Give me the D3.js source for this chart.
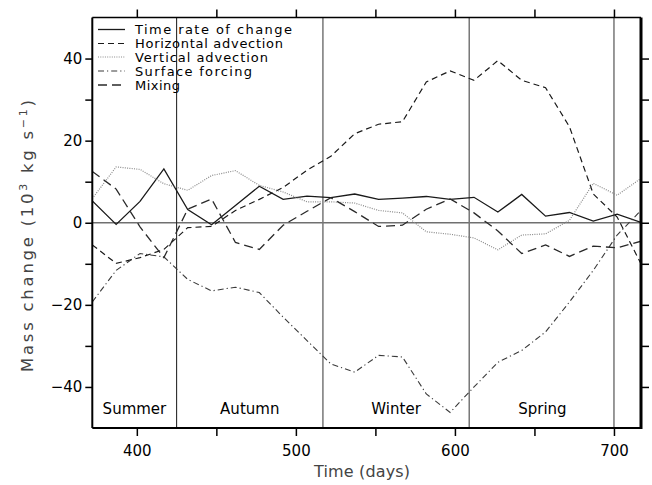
<!DOCTYPE html>
<html>
<head>
<meta charset="utf-8">
<script src="https://cdn.jsdelivr.net/npm/d3@7"></script>
<style>
  html, body { margin: 0; padding: 0; background: #fff; }
  svg { display: block; }
  text { font-family: "DejaVu Sans", sans-serif; }
</style>
</head>
<body>
<svg id="chart" width="652" height="485"></svg>
<script>
// ---- data ----
const days = d3.range(24).map(i => 372 + 15 * i);
const timeRate   = [5.3, -0.4, 5.2, 13.1, 3.2, -0.5, 4.2, 8.9, 5.7, 6.5, 6.1, 7.0, 5.7, 6.0, 6.4, 5.7, 6.2, 2.6, 6.9, 1.6, 2.5, 0.4, 2.1, 0.1];
const horizAdv   = [-5.4, -9.9, -8.5, -6.5, -1.2, -0.9, 3.0, 5.7, 8.6, 12.8, 16.2, 21.7, 24.0, 24.6, 34.3, 37.0, 34.7, 39.5, 34.7, 32.9, 23.4, 7.0, 1.4, -10.0];
const vertAdv    = [5.9, 13.6, 13.0, 9.5, 7.9, 11.5, 12.7, 9.1, 7.5, 5.1, 5.1, 4.8, 3.0, 2.4, -2.2, -2.8, -3.7, -6.6, -3.0, -2.7, 0.6, 9.6, 6.7, 10.8];
const surfForce  = [-19.3, -11.6, -7.5, -8.3, -13.8, -16.6, -15.7, -17.0, -23.0, -28.7, -34.4, -36.4, -32.3, -32.7, -41.7, -46.2, -40.0, -34.0, -31.1, -26.6, -19.3, -11.6, -3.0, 3.0];
const mixing     = [12.5, 8.2, -1.0, -8.5, 3.3, 5.8, -4.8, -6.5, -0.6, 2.8, 6.1, 2.7, -0.9, -0.6, 3.3, 5.8, 2.4, -2.0, -7.5, -5.4, -8.2, -5.7, -6.1, -4.5];

const seriesNames = ["Time rate of change", "Horizontal advection", "Vertical advection", "Surface forcing", "Mixing"];
const seasonBounds = [425, 517, 609, 700];
const seasonNames = ["Summer", "Autumn", "Winter", "Spring"];
const seasonCenters = [398.5, 471, 563, 655];
const xTickLabels = [400, 500, 600, 700];
const yTickLabels = [-40, -20, 0, 20, 40];

// ---- layout ----
const svg = d3.select("#chart");
const L = 92.3, R = 641, T = 17.5, B = 428;
const x = d3.scaleLinear().domain([372, 717]).range([L, R]);
const y = d3.scaleLinear().domain([-50, 50]).range([B, T]);

const styles = [
  {stroke: "#1a1a1a", dash: null, w: 1.3},
  {stroke: "#1a1a1a", dash: "6,4", w: 1.2},
  {stroke: "#8a8a8a", dash: "1,1.3", w: 1.2},
  {stroke: "#3a3a3a", dash: "6,3,1.2,3", w: 1.1},
  {stroke: "#2a2a2a", dash: "9,5", w: 1.3}
];
const allSeries = [timeRate, horizAdv, vertAdv, surfForce, mixing];
const legendWidths = [157, 148, 133, 117, 45];

svg.append("defs").append("clipPath").attr("id", "clip")
  .append("rect").attr("x", L).attr("y", T).attr("width", R - L).attr("height", B - T);

// zero line
svg.append("line").attr("x1", L).attr("x2", R).attr("y1", y(0)).attr("y2", y(0))
  .attr("stroke", "#707070").attr("stroke-width", 1.5);

// season lines
seasonBounds.forEach((d, i) => {
  svg.append("line").attr("x1", x(d)).attr("x2", x(d)).attr("y1", T).attr("y2", B)
    .attr("stroke", i === 0 ? "#2a2a2a" : "#777").attr("stroke-width", i === 0 ? 1.1 : 1.5);
});

// series
const line = d3.line().x((d, i) => x(days[i])).y(d => y(d));
const g = svg.append("g").attr("clip-path", "url(#clip)");
allSeries.forEach((s, k) => {
  g.append("path").datum(s).attr("d", line).attr("fill", "none")
    .attr("stroke", styles[k].stroke).attr("stroke-width", styles[k].w)
    .attr("stroke-dasharray", styles[k].dash);
});

// season labels
seasonNames.forEach((n, i) => {
  svg.append("text").attr("x", x(seasonCenters[i])).attr("y", 414)
    .attr("text-anchor", "middle").attr("font-size", 15).attr("fill", "#000").text(n);
});

// axes
const xAxisB = d3.axisBottom(x).tickValues(d3.range(400, 701, 50)).tickSize(8)
  .tickFormat(d => xTickLabels.includes(d) ? d : "");
const gb = svg.append("g").attr("transform", `translate(0,${B})`).call(xAxisB);
gb.select(".domain").attr("stroke-width", 2.2).attr("d", `M${L},0H${R}`);
gb.selectAll("line").attr("stroke-width", 1.5);
gb.selectAll("text").attr("font-size", 15).attr("font-family", "DejaVu Sans").attr("dy", "1.1em").attr("fill", "#000");

const xAxisT = d3.axisTop(x).tickValues(d3.range(400, 701, 50)).tickSize(8).tickFormat("");
const gt = svg.append("g").attr("transform", `translate(0,${T})`).call(xAxisT);
gt.select(".domain").attr("stroke-width", 1.5).attr("d", `M${L},0H${R}`);
gt.selectAll("line").attr("stroke-width", 1.5);

const yAxisL = d3.axisLeft(y).tickValues(d3.range(-40, 41, 10)).tickSize(7)
  .tickFormat(d => yTickLabels.includes(d) ? (d < 0 ? "\u2212" + Math.abs(d) : d) : "");
const gl = svg.append("g").attr("transform", `translate(${L},0)`).call(yAxisL);
gl.select(".domain").attr("stroke-width", 2).attr("d", `M0,${T}V${B}`);
gl.selectAll("line").attr("stroke-width", 1.5);
gl.selectAll("text").attr("font-size", 15).attr("font-family", "DejaVu Sans").attr("x", -10).attr("fill", "#000");

const yAxisR = d3.axisRight(y).tickValues(d3.range(-40, 41, 10)).tickSize(8).tickFormat("");
const gr = svg.append("g").attr("transform", `translate(${R},0)`).call(yAxisR);
gr.select(".domain").attr("stroke-width", 3).attr("d", `M0,${T}V${B + 1}`);
gr.selectAll("line").attr("stroke-width", 1.5);

// axis titles
svg.append("text").attr("x", 362).attr("y", 477).attr("text-anchor", "middle")
  .attr("font-size", 16).attr("textLength", 96).attr("lengthAdjust", "spacing")
  .attr("fill", "#444").text("Time (days)");
const yt = svg.append("text").attr("transform", "translate(33,236) rotate(-90)")
  .attr("text-anchor", "middle").attr("font-size", 16.5)
  .attr("textLength", 272).attr("lengthAdjust", "spacing").attr("fill", "#444");
yt.append("tspan").text("Mass change (10");
yt.append("tspan").attr("dy", -6).attr("font-size", 11).text("3");
yt.append("tspan").attr("dy", 6).text(" kg s");
yt.append("tspan").attr("dy", -6).attr("font-size", 11).text("\u22121");
yt.append("tspan").attr("dy", 6).text(")");

// legend
const legY = [29.5, 43.5, 57, 71, 85];
seriesNames.forEach((n, k) => {
  svg.append("line").attr("x1", 98).attr("x2", 125).attr("y1", legY[k]).attr("y2", legY[k])
    .attr("stroke", styles[k].stroke).attr("stroke-width", styles[k].w)
    .attr("stroke-dasharray", styles[k].dash);
  svg.append("text").attr("x", 135).attr("y", legY[k] + 4.5).attr("font-size", 13)
    .attr("textLength", legendWidths[k]).attr("lengthAdjust", "spacing")
    .attr("fill", "#000").text(n);
});
</script>
</body>
</html>
